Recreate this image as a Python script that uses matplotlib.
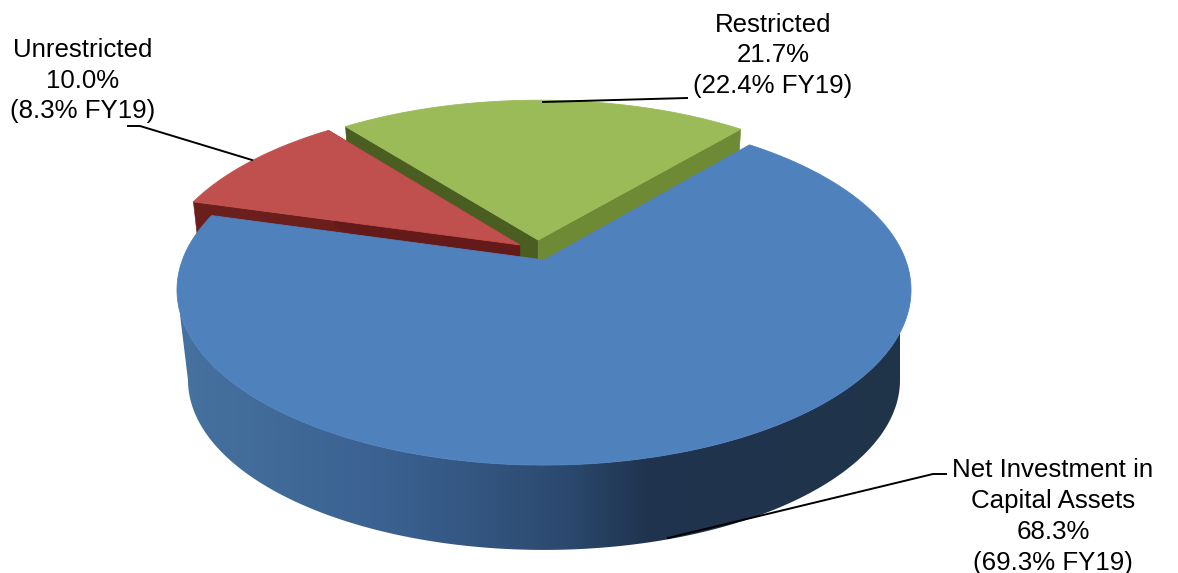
import numpy as np
import matplotlib
matplotlib.use("Agg")
import matplotlib.pyplot as plt
from matplotlib.colors import LinearSegmentedColormap
from matplotlib.patches import Polygon

# shares of net position, going clockwise from the start angle
categories = ["Net Investment in\nCapital Assets", "Unrestricted", "Restricted"]
shares = [68.3, 10.0, 21.7]
prior_shares = [69.3, 8.3, 22.4]

plt.rcParams["font.family"] = ["Liberation Sans", "DejaVu Sans"]

# camera fitted to the picture
CX, CY = 544, 260
SX, SY = 361.6, 170
K = 0.171
DEPTH = 91
SHRINK = 0.03
START = 50.0

# world offset of each exploded slice
explode = [(0.0, 0.0), (-0.068, 0.09), (-0.0165, 0.12)]
top_colors = ["#4f81bd", "#c0504d", "#9bbb59"]
# side face colors: edge at the start of the slice, edge at the end of it
side_colors = [("#1f3450", "#1f3450"), ("#6b1f1c", "#631a18"), ("#4a5e22", "#6f8a35")]

shade = LinearSegmentedColormap.from_list(
    "shade",
    [(0.0, "#46729f"), (0.3, "#3a6090"), (0.53, "#2c4a70"), (0.65, "#20344f"), (1.0, "#1f3349")],
)


def project(x, y, z=0.0):
    x, y = np.asarray(x, float), np.asarray(y, float)
    w = 1 + K * y
    scale = 1 - SHRINK * z
    return CX + scale * SX * x / w, CY + DEPTH * z - scale * SY * y / w


def slice_angles():
    spans = np.array(shares) / sum(shares) * 360
    out = []
    a = START
    for s in spans:
        out.append((a, a - s))
        a -= s
    return out


fig = plt.figure(figsize=(11.78, 5.73), dpi=100)
ax = fig.add_axes([0, 0, 1, 1])
angles = slice_angles()


def draw_top(i, zorder):
    a0, a1 = angles[i]
    dx, dy = explode[i]
    t = np.radians(np.linspace(a0, a1, 300))
    xs = np.r_[dx, np.cos(t) + dx]
    ys = np.r_[dy, np.sin(t) + dy]
    px, py = project(xs, ys)
    ax.fill(px, py, color=top_colors[i], lw=0.6, zorder=zorder)


def draw_radial_faces(i, zorder):
    a0, a1 = angles[i]
    dx, dy = explode[i]
    for a, col in zip((a0, a1), side_colors[i]):
        ex, ey = np.cos(np.radians(a)) + dx, np.sin(np.radians(a)) + dy
        wx = [dx, ex, ex, dx]
        wy = [dy, ey, ey, dy]
        z = [0, 0, 1, 1]
        px, py = zip(*[project(p, q, r) for p, q, r in zip(wx, wy, z)])
        ax.fill(px, py, color=col, lw=0.4, zorder=zorder)


# green first, then red, then the big blue slice in front
draw_radial_faces(2, 1)
draw_top(2, 2)
draw_radial_faces(1, 3)
draw_top(1, 4)

# blue rim: horizontal gradient clipped to the outline of the side
widest = np.degrees(np.arcsin(K))
t = np.radians(np.linspace(180 + widest, 360 - widest, 400))
xt, yt = project(np.cos(t), np.sin(t), 0)
xb, yb = project(np.cos(t), np.sin(t), 1)
rim = Polygon(np.c_[np.r_[xt, xb[::-1]], np.r_[yt, yb[::-1]]], closed=True,
              facecolor="none", edgecolor="none", transform=ax.transData)
ax.add_patch(rim)
gradient = np.linspace(0, 1, 720).reshape(1, -1)
im = ax.imshow(gradient, cmap=shade, extent=(180, 900, 573, 0), aspect="auto", zorder=5,
               interpolation="bilinear")
im.set_clip_path(rim)
draw_top(0, 6)

ax.set_xlim(0, 1178)
ax.set_ylim(573, 0)
ax.axis("off")

# labels
label_pos = [(1053, 516.5), (83, 80.5), (773, 55.5)]
for cat, val, old, (lx, ly) in zip(categories, shares, prior_shares, label_pos):
    ax.text(lx, ly, f"{cat}\n{val:.1f}%\n({old:.1f}% FY19)", ha="center", va="center",
            fontsize=18.6, color="black", linespacing=1.36, zorder=8)

# leader lines
ax.plot([668, 933, 946], [538, 474, 474], color="black", lw=1.4, zorder=7)
ax.plot([128, 140, 252], [126, 126, 160], color="black", lw=1.4, zorder=7)
ax.plot([543, 687], [102, 98], color="black", lw=1.4, zorder=7)

fig.savefig("out.png", dpi=100)
